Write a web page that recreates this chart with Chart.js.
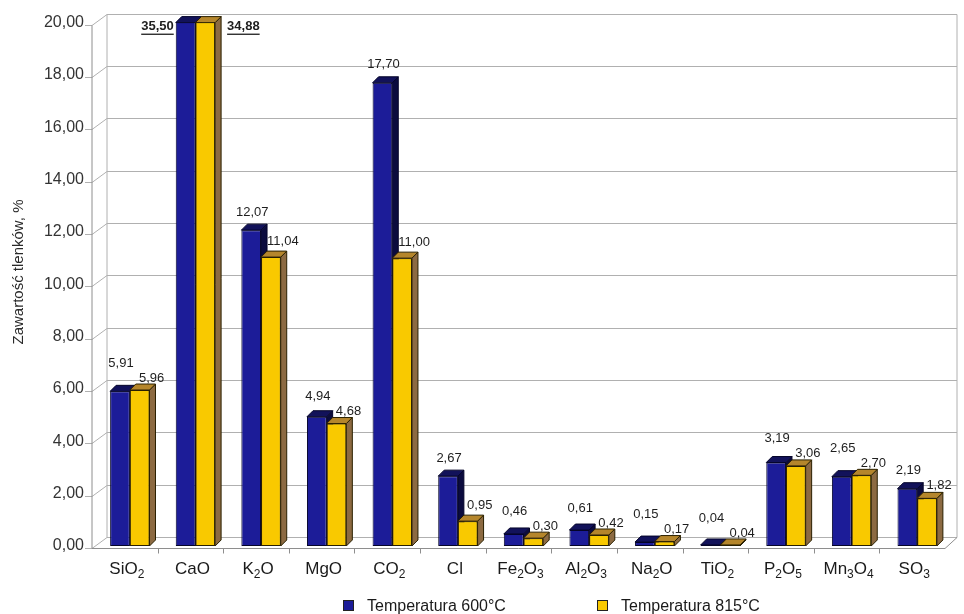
<!DOCTYPE html>
<html>
<head>
<meta charset="utf-8">
<script src="https://cdn.jsdelivr.net/npm/chart.js@4/dist/chart.umd.min.js"></script>
<style>
  html, body { margin: 0; padding: 0; background: #ffffff; }
  #wrap { width: 964px; height: 614px; }
</style>
</head>
<body>
<div id="wrap"><canvas id="chart" width="964" height="614"></canvas></div>
<script>
// Oxide content of the ash at two combustion temperatures
const categories = ['SiO2', 'CaO', 'K2O', 'MgO', 'CO2', 'Cl', 'Fe2O3', 'Al2O3', 'Na2O', 'TiO2', 'P2O5', 'Mn3O4', 'SO3'];
const temp600 = [5.91, 35.50, 12.07, 4.94, 17.70, 2.67, 0.46, 0.61, 0.15, 0.04, 3.19, 2.65, 2.19];
const temp815 = [5.96, 34.88, 11.04, 4.68, 11.00, 0.95, 0.30, 0.42, 0.17, 0.04, 3.06, 2.70, 1.82];
const seriesNames = ['Temperatura 600°C', 'Temperatura 815°C'];
const yTickValues = [0, 2, 4, 6, 8, 10, 12, 14, 16, 18, 20];
const yAxisTitle = 'Zawartość tlenków, %';

const FONT = '"Liberation Sans", Arial, sans-serif';
const fmt = v => Number(v).toFixed(2).replace('.', ',');

// face colours for the extruded bars
const palette = [
  { front: '#1c1c98', top: '#12125a', side: '#0b0b3e', edge: '#05052a' },
  { front: '#f9c900', top: '#b5862c', side: '#8c6a42', edge: '#2a2000' }
];

const EX = 6, EY = 6;                // bar extrusion
const FRONT_DX = -5, FRONT_DY = 2;   // front frame relative to bar plane
const BACK_DX = 10, BACK_DY = -9;    // back wall relative to bar plane

// draws a chemical formula with digits as subscripts, centred on cx
function drawFormula(ctx, text, cx, baseline, size) {
  const subSize = Math.round(size * 0.68);
  const runs = text.match(/[A-Za-z]+|[0-9]+/g);
  let total = 0;
  const widths = runs.map(r => {
    ctx.font = (/[0-9]/.test(r) ? subSize : size) + 'px ' + FONT;
    const w = ctx.measureText(r).width;
    total += w;
    return w;
  });
  let x = cx - total / 2;
  ctx.textAlign = 'left';
  ctx.textBaseline = 'alphabetic';
  runs.forEach((r, i) => {
    const sub = /[0-9]/.test(r);
    ctx.font = (sub ? subSize : size) + 'px ' + FONT;
    ctx.fillText(r, x, baseline + (sub ? 4 : 0));
    x += widths[i];
  });
}

const box3d = {
  id: 'box3d',
  beforeDatasetsDraw(chart) {
    const { ctx, chartArea: a, scales: { y } } = chart;
    const backL = a.left + BACK_DX, backR = a.right + 7;
    const frontX = a.left + FRONT_DX;
    ctx.save();
    ctx.lineWidth = 1;
    ctx.strokeStyle = '#b0b0b0';
    // back wall grid lines and diagonal tick connectors
    yTickValues.forEach(v => {
      const py = Math.round(y.getPixelForValue(v)) + 0.5;
      ctx.beginPath();
      ctx.moveTo(backL, py + BACK_DY);
      ctx.lineTo(backR, py + BACK_DY);
      ctx.stroke();
      ctx.beginPath();
      ctx.moveTo(frontX - 7, py + FRONT_DY);
      ctx.lineTo(frontX, py + FRONT_DY);
      ctx.lineTo(backL, py + BACK_DY);
      ctx.stroke();
    });
    const y0 = Math.round(y.getPixelForValue(0)) + 0.5;
    const y20 = Math.round(y.getPixelForValue(20)) + 0.5;
    // back wall frame
    ctx.beginPath();
    ctx.moveTo(backL, y0 + BACK_DY);
    ctx.lineTo(backL, y20 + BACK_DY);
    ctx.moveTo(backR, y0 + BACK_DY);
    ctx.lineTo(backR, y20 + BACK_DY);
    ctx.stroke();
    // front axis and floor
    ctx.strokeStyle = '#8e8e8e';
    const floorR = a.right - 5;
    ctx.beginPath();
    ctx.moveTo(frontX, y20 + FRONT_DY);
    ctx.lineTo(frontX, y0 + FRONT_DY);
    ctx.lineTo(floorR, y0 + FRONT_DY);
    ctx.lineTo(backR, y0 + BACK_DY);
    ctx.stroke();
    // category separators on the floor edge
    const step = (a.right - a.left) / categories.length;
    for (let i = 1; i < categories.length; i++) {
      const px = Math.round(a.left + i * step + FRONT_DX) + 0.5;
      ctx.beginPath();
      ctx.moveTo(px, y0 + FRONT_DY);
      ctx.lineTo(px, y0 + FRONT_DY + 5);
      ctx.stroke();
    }
    ctx.restore();
  },
  afterDatasetsDraw(chart) {
    const { ctx, chartArea: a } = chart;
    const m0 = chart.getDatasetMeta(0).data;
    const m1 = chart.getDatasetMeta(1).data;

    const faces = (el, col) => {
      const x0 = el.x - el.width / 2, x1 = el.x + el.width / 2;
      const yT = Math.max(el.y, a.top), yB = el.base;
      ctx.lineWidth = 1;
      ctx.strokeStyle = col.edge;
      ctx.fillStyle = col.side;
      ctx.beginPath();
      ctx.moveTo(x1, yT);
      ctx.lineTo(x1 + EX, yT - EY);
      ctx.lineTo(x1 + EX, yB - EY);
      ctx.lineTo(x1, yB);
      ctx.closePath();
      ctx.fill();
      ctx.stroke();
      ctx.fillStyle = col.top;
      ctx.beginPath();
      ctx.moveTo(x0, yT);
      ctx.lineTo(x0 + EX, yT - EY);
      ctx.lineTo(x1 + EX, yT - EY);
      ctx.lineTo(x1, yT);
      ctx.closePath();
      ctx.fill();
      ctx.stroke();
    };

    ctx.save();
    m0.forEach((b, i) => {
      const f = m1[i];
      faces(b, palette[0]);
      ctx.save();
      ctx.beginPath();
      ctx.rect(a.left, a.top, a.right - a.left, a.bottom - a.top);
      ctx.clip();
      f.draw(ctx);
      ctx.restore();
      faces(f, palette[1]);
    });
    ctx.restore();

    // value labels
    const yMax = chart.scales.y.max;
    ctx.save();
    ctx.fillStyle = '#1e1e1e';
    m0.forEach((b, i) => {
      const f = m1[i];
      const vb = temp600[i], vf = temp815[i];
      if (vb > yMax || vf > yMax) {
        ctx.font = 'bold 13px ' + FONT;
        ctx.textBaseline = 'middle';
        const ly = a.top + 4;
        const tb = fmt(vb), tf = fmt(vf);
        const xb = b.x - b.width / 2 - 2;
        const wb = ctx.measureText(tb).width;
        ctx.textAlign = 'right';
        ctx.fillText(tb, xb, ly);
        ctx.fillRect(xb - wb, ly + 7, wb, 1.3);
        const xf = f.x + f.width / 2 + EX + 6;
        const wf = ctx.measureText(tf).width;
        ctx.textAlign = 'left';
        ctx.fillText(tf, xf, ly);
        ctx.fillRect(xf, ly + 7, wf, 1.3);
        return;
      }
      ctx.font = '13px ' + FONT;
      ctx.textAlign = 'center';
      ctx.textBaseline = 'middle';
      const topB = b.y, topF = f.y;
      let yb = topB - 18, yf = topF - 16;
      if (Math.abs(yb - yf) < 15) {
        yf = Math.min(Math.max(yf, yb + 15), topF - 12);
        yb = yf - 15;
      }
      ctx.fillText(fmt(vb), b.x + 1, yb);
      ctx.fillText(fmt(vf), f.x + 12, yf);
    });
    ctx.restore();
  },
  afterDraw(chart) {
    const { ctx } = chart;
    ctx.save();
    ctx.fillStyle = '#1a1a1a';
    // category labels
    const xs = chart.scales.x;
    categories.forEach((c, i) => {
      drawFormula(ctx, c, xs.getPixelForValue(i) - 3, 574, 17);
    });
    // axis title
    ctx.save();
    ctx.translate(19, 272);
    ctx.rotate(-Math.PI / 2);
    ctx.font = '15px ' + FONT;
    ctx.textAlign = 'center';
    ctx.textBaseline = 'middle';
    ctx.fillStyle = '#2a2a2a';
    ctx.fillText(yAxisTitle, 0, 0);
    ctx.restore();
    // legend
    const starts = [343, 597];
    chart.data.datasets.forEach((ds, i) => {
      const bx = starts[i];
      ctx.fillStyle = palette[i].front;
      ctx.fillRect(bx, 600, 10, 10);
      ctx.strokeStyle = '#222';
      ctx.lineWidth = 1;
      ctx.strokeRect(bx + 0.5, 600.5, 10, 10);
      ctx.fillStyle = '#1a1a1a';
      ctx.font = '16px ' + FONT;
      ctx.textAlign = 'left';
      ctx.textBaseline = 'alphabetic';
      ctx.fillText(ds.label, bx + 24, 611);
    });
    ctx.restore();
  }
};

new Chart(document.getElementById('chart'), {
  type: 'bar',
  data: {
    labels: categories,
    datasets: [
      { label: seriesNames[0], data: temp600, backgroundColor: palette[0].front,
        borderColor: palette[0].edge, borderWidth: 1, borderSkipped: false },
      { label: seriesNames[1], data: temp815, backgroundColor: palette[1].front,
        borderColor: palette[1].edge, borderWidth: 1, borderSkipped: false }
    ]
  },
  options: {
    responsive: false,
    animation: false,
    devicePixelRatio: 1,
    layout: { padding: { top: 21, right: 14, left: 0, bottom: 0 } },
    datasets: { bar: { categoryPercentage: 0.6, barPercentage: 1.0 } },
    plugins: { legend: { display: false }, tooltip: { enabled: false } },
    scales: {
      x: {
        grid: { display: false, drawTicks: false },
        border: { display: false },
        ticks: { display: false },
        afterFit(s) { s.height = 68; }
      },
      y: {
        min: 0,
        max: 20,
        afterFit(s) { s.width = 97; },
        afterBuildTicks(s) { s.ticks = yTickValues.map(v => ({ value: v })); },
        grid: { display: false, drawTicks: false },
        border: { display: false },
        ticks: {
          padding: 13,
          color: '#333',
          font: { family: FONT, size: 16 },
          callback: v => fmt(v)
        }
      }
    }
  },
  plugins: [box3d]
});
</script>
</body>
</html>
